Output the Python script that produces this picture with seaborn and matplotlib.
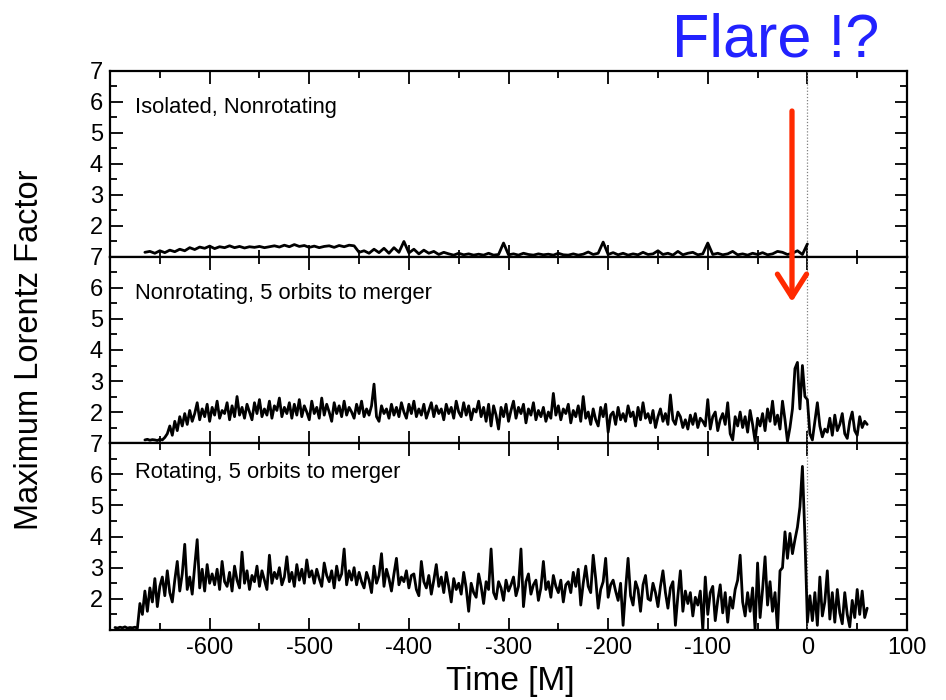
import numpy as np
import pandas as pd
import matplotlib
matplotlib.use("Agg")
import matplotlib.pyplot as plt
from matplotlib.patches import FancyArrowPatch
from matplotlib.ticker import MultipleLocator, FixedLocator, FuncFormatter
import seaborn as sns

sns.set_style("ticks")
plt.rcParams["font.family"] = ["Liberation Sans", "DejaVu Sans"]
plt.rcParams["axes.unicode_minus"] = False
for key in ("text.color", "axes.labelcolor", "xtick.color", "ytick.color"):
    plt.rcParams[key] = "black"

# ---- data -------------------------------------------------------------
panel_titles = [
    "Isolated, Nonrotating",
    "Nonrotating, 5 orbits to merger",
    "Rotating, 5 orbits to merger",
]

# Isolated, nonrotating: every 5 M from t = -665 M
isolated_start, isolated_step = -665, 5.0
isolated_gamma = [
    1.15, 1.18, 1.12, 1.20, 1.14, 1.22, 1.17, 1.25, 1.20, 1.30,
    1.24, 1.32, 1.28, 1.35, 1.27, 1.33, 1.30, 1.36, 1.30, 1.34,
    1.29, 1.33, 1.31, 1.34, 1.30, 1.33, 1.36, 1.32, 1.38, 1.33,
    1.40, 1.34, 1.37, 1.31, 1.35, 1.30, 1.34, 1.36, 1.31, 1.37,
    1.33, 1.38, 1.36, 1.15, 1.20, 1.12, 1.25, 1.14, 1.28, 1.12,
    1.30, 1.15, 1.50, 1.13, 1.25, 1.10, 1.22, 1.12, 1.18, 1.08,
    1.15, 1.10, 1.06, 1.12, 1.07, 1.10, 1.06, 1.09, 1.06, 1.12,
    1.06, 1.08, 1.45, 1.07, 1.10, 1.06, 1.12, 1.08, 1.06, 1.10,
    1.07, 1.09, 1.06, 1.12, 1.07, 1.06, 1.10, 1.06, 1.09, 1.16,
    1.08, 1.12, 1.48, 1.08, 1.14, 1.07, 1.12, 1.06, 1.10, 1.07,
    1.15, 1.08, 1.10, 1.20, 1.08, 1.12, 1.06, 1.18, 1.07, 1.12,
    1.15, 1.07, 1.10, 1.45, 1.08, 1.12, 1.07, 1.10, 1.18, 1.07,
    1.10, 1.06, 1.12, 1.08, 1.14, 1.07, 1.10, 1.18, 1.15, 1.08,
    1.12, 1.20, 1.08, 1.42,
]

# Nonrotating binary, 5 orbits to merger: every 2.5 M from t = -665 M
nonrot_start, nonrot_step = -665, 2.5
nonrot_gamma = [
    1.10, 1.12, 1.09, 1.11, 1.10, 1.08, 1.12, 1.10, 1.18, 1.30,
    1.55, 1.25, 1.70, 1.40, 1.85, 1.55, 1.95, 1.60, 2.05, 1.70,
    1.95, 2.30, 1.75, 2.10, 1.85, 2.25, 1.70, 2.15, 1.90, 2.35,
    1.80, 2.05, 1.95, 2.30, 1.75, 2.20, 1.85, 2.50, 1.90, 2.15,
    1.80, 2.25, 2.00, 1.75, 2.30, 1.95, 2.40, 1.85, 2.10, 1.90,
    2.35, 1.80, 2.20, 2.05, 2.45, 1.85, 2.15, 1.95, 2.30, 1.80,
    2.25, 1.90, 2.40, 1.85, 2.20, 2.00, 1.75, 2.35, 1.95, 2.15,
    1.80, 2.45, 1.90, 2.25, 2.00, 1.70, 2.30, 1.95, 2.20, 1.85,
    2.35, 1.90, 2.15, 2.00, 1.80, 2.25, 1.95, 2.35, 1.85, 2.10,
    1.90, 2.20, 2.90, 1.85, 1.70, 2.20, 1.95, 2.10, 1.80, 2.25,
    1.90, 2.15, 1.85, 2.30, 2.00, 1.80, 2.25, 1.95, 2.35, 1.85,
    2.10, 1.90, 2.25, 1.80, 2.05, 2.30, 1.85, 2.20, 1.95, 2.10,
    1.75, 2.25, 1.95, 2.15, 1.80, 2.35, 2.00, 1.85, 2.30, 1.90,
    2.20, 1.75, 2.10, 2.00, 2.35, 1.85, 2.15, 1.70, 2.25, 1.55,
    2.20, 1.90, 1.45, 2.15, 1.85, 2.25, 1.70, 2.05, 2.35, 1.80,
    2.15, 1.95, 2.25, 1.65, 2.10, 1.90, 2.30, 1.75, 2.05, 1.85,
    2.15, 1.70, 2.00, 1.80, 2.60, 1.90, 2.20, 1.75, 2.10, 1.95,
    2.25, 1.65, 2.05, 1.85, 2.20, 1.70, 2.50, 1.80, 2.00, 1.60,
    2.10, 1.75, 1.55, 2.15, 1.85, 2.25, 1.35, 1.90, 2.00, 1.60,
    2.15, 1.75, 1.95, 1.70, 2.20, 1.85, 2.00, 1.55, 2.15, 1.75,
    2.30, 1.80, 1.95, 1.65, 2.05, 1.50, 1.85, 2.10, 1.70, 1.95,
    1.60, 2.55, 1.75, 1.60, 2.00, 1.85, 1.50, 1.75, 1.45, 1.90,
    1.60, 1.95, 1.50, 1.80, 1.70, 1.55, 2.40, 1.45, 1.85, 2.00,
    1.40, 1.75, 1.95, 1.60, 2.30, 1.30, 1.10, 1.85, 1.55, 2.00,
    1.50, 1.85, 1.35, 2.05, 1.60, 1.05, 1.80, 1.55, 1.95, 1.40,
    2.10, 1.70, 2.35, 1.60, 1.90, 1.45, 2.35, 1.75, 1.05, 1.50,
    2.10, 3.40, 3.60, 2.10, 3.50, 2.50, 2.40, 1.30, 1.10, 1.70,
    2.30, 1.55, 1.20, 1.45, 1.35, 1.80, 1.25, 1.90, 1.40, 1.60,
    1.95, 1.30, 1.15, 1.70, 2.00, 1.40, 1.25, 1.85, 1.50, 1.70,
    1.60,
]

# Rotating binary, 5 orbits to merger: every 2.5 M from t = -695 M
rot_start, rot_step = -695, 2.5
rot_gamma = [
    1.08, 1.06, 1.09, 1.07, 1.10, 1.06, 1.08, 1.07, 1.09, 1.06,
    1.85, 1.50, 2.25, 1.60, 2.35, 1.90, 2.65, 1.75, 2.40, 2.70,
    2.10, 2.90, 2.20, 1.90, 2.60, 3.20, 2.25, 2.80, 3.75, 2.30,
    2.70, 2.15, 3.05, 3.90, 2.35, 2.95, 2.25, 3.10, 2.50, 2.80,
    2.45, 2.95, 2.30, 3.20, 2.55, 2.40, 2.85, 2.25, 3.05, 2.60,
    2.35, 3.50, 2.50, 2.90, 2.30, 2.75, 2.55, 3.05, 2.40, 2.90,
    2.60, 2.30, 3.40, 2.50, 2.85, 2.65, 3.00, 2.45, 2.70, 3.35,
    2.55, 2.85, 2.40, 3.10, 2.60, 2.95, 2.50, 3.25, 2.70, 2.90,
    2.50, 2.95, 2.65, 2.40, 3.15, 2.75, 2.55, 2.90, 2.35, 3.05,
    2.60, 2.80, 3.60, 2.45, 2.90, 2.60, 3.00, 2.45, 2.85, 2.55,
    2.35, 2.85, 2.60, 2.20, 3.05, 2.50, 2.75, 3.45, 2.40, 2.95,
    2.65, 2.25, 2.80, 3.30, 2.45, 2.70, 2.55, 2.90, 2.35, 2.75,
    2.80, 2.30, 2.10, 3.20, 2.55, 2.35, 2.75, 2.15, 2.60, 3.10,
    2.40, 2.70, 2.20, 2.85, 2.40, 1.90, 2.65, 2.30, 2.50, 2.15,
    2.85, 2.35, 1.60, 2.50, 2.20, 2.05, 2.80, 2.40, 1.85, 2.55,
    2.30, 3.60, 2.20, 2.00, 2.55, 2.35, 1.95, 2.60, 2.25, 2.45,
    2.70, 2.10, 2.40, 3.60, 1.75, 2.55, 2.80, 2.15, 2.45, 2.60,
    1.95, 2.35, 3.20, 2.30, 2.55, 2.05, 2.75, 2.40, 2.20, 2.60,
    1.90, 2.45, 2.55, 2.20, 2.85, 2.40, 2.95, 1.80, 2.50, 3.05,
    2.40, 2.20, 3.40, 2.65, 1.70, 2.30, 2.55, 3.30, 2.05, 2.45,
    2.60, 2.25, 1.95, 2.50, 1.15, 2.30, 3.30, 2.10, 1.80, 2.55,
    2.30, 1.60, 2.45, 2.75, 2.00, 1.95, 2.50, 2.20, 1.75, 2.40,
    2.90, 2.20, 1.70, 2.35, 2.55, 1.15, 2.10, 2.90, 1.60, 2.25,
    1.85, 2.20, 1.45, 2.05, 1.80, 2.25, 1.00, 2.70, 1.50, 2.20,
    2.40, 1.30, 1.95, 2.45, 1.55, 2.20, 1.25, 2.05, 1.70, 2.30,
    2.60, 3.40, 1.90, 1.45, 2.20, 1.60, 2.35, 1.00, 3.15, 1.40,
    2.30, 3.35, 1.80, 2.55, 1.60, 2.20, 1.00, 2.90, 3.00, 4.15,
    3.30, 4.10, 3.45, 3.90, 4.30, 4.95, 6.25, 4.00, 1.25, 2.10,
    1.30, 2.20, 1.15, 2.70, 1.45, 1.90, 2.90, 1.35, 2.20, 1.25,
    2.30, 1.55, 1.20, 2.20, 1.50, 1.10, 1.95, 1.40, 2.30, 1.50,
    2.25, 1.40, 1.70,
]

y_tick_values = [2, 3, 4, 5, 6, 7]
x_tick_step = 100


def series_frame(start, step, values):
    t = start + step * np.arange(len(values))
    return pd.DataFrame({"time": t, "gamma": values})


frames = [
    series_frame(isolated_start, isolated_step, isolated_gamma),
    series_frame(nonrot_start, nonrot_step, nonrot_gamma),
    series_frame(rot_start, rot_step, rot_gamma),
]

# ---- layout -----------------------------------------------------------
fig = plt.figure(figsize=(9.46, 7.0), dpi=100)
left, width = 0.1163, 0.8425
bottoms = [0.6329, 0.3671, 0.1000]
heights = [0.2657, 0.2658, 0.2671]
title_y = [0.805, 0.805, 0.845]

xfmt = FuncFormatter(lambda v, pos: "" if v <= -700 else f"{v:.0f}")

for i, (df, title) in enumerate(zip(frames, panel_titles)):
    ax = fig.add_axes([left, bottoms[i], width, heights[i]])
    ax.axvline(0, color="0.5", linestyle=(0, (1, 1.5)), linewidth=0.9, zorder=1)
    sns.lineplot(data=df, x="time", y="gamma", ax=ax, color="black",
                 linewidth=2.0, estimator=None, zorder=3)
    ax.set_xlim(-700, 100)
    ax.set_ylim(1, 7)
    ax.xaxis.set_major_locator(MultipleLocator(x_tick_step))
    ax.xaxis.set_minor_locator(MultipleLocator(x_tick_step / 2))
    ax.xaxis.set_major_formatter(xfmt)
    ax.set_yticks(y_tick_values)
    ax.yaxis.set_minor_locator(FixedLocator([v - 0.5 for v in y_tick_values]))
    ax.tick_params(which="both", direction="in", top=True, right=True,
                   width=1.3, colors="black", labelsize=17)
    ax.tick_params(which="major", length=9, pad=5)
    ax.tick_params(which="minor", length=5)
    for s in ax.spines.values():
        s.set_linewidth(1.6)
        s.set_color("black")
    ax.set_xlabel("")
    ax.set_ylabel("")
    if i < 2:
        ax.tick_params(labelbottom=False)
    ax.text(0.031, title_y[i], title, transform=ax.transAxes,
            fontsize=15.8, va="center", ha="left", color="black")

fig.text(0.031, 0.5, "Maximum Lorentz Factor", rotation=90,
         ha="center", va="center", fontsize=23.5, color="black")
fig.text(0.539, 0.0143, "Time [M]", ha="center", va="baseline",
         fontsize=24, color="black")

# flare marker
arrow = FancyArrowPatch((0.8372, 0.8414), (0.8372, 0.5686),
                        transform=fig.transFigure,
                        arrowstyle="->,head_length=0.55,head_width=0.35",
                        mutation_scale=30, linewidth=3.8, color="#ff2a00",
                        shrinkA=0, shrinkB=0, zorder=10)
fig.add_artist(arrow)
fig.text(0.820, 0.9186, "Flare !?", ha="center", va="baseline",
         fontsize=44, color="#2222ff")

fig.savefig("out.png", dpi=100)
